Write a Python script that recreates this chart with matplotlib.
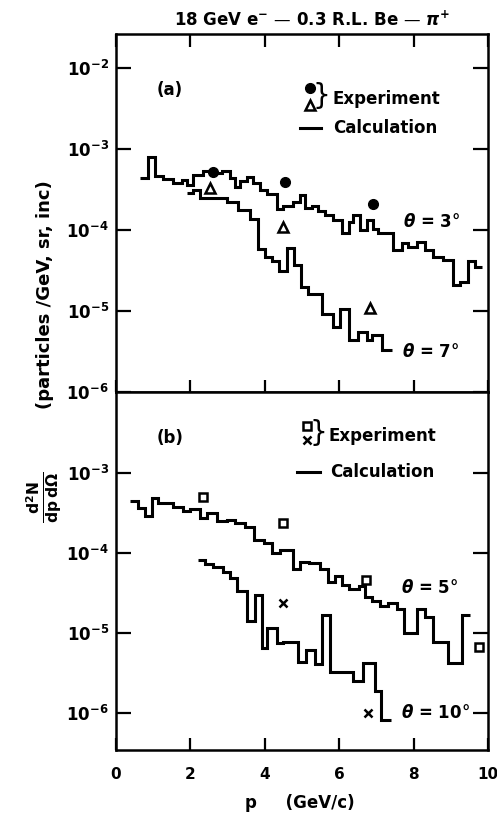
import math
import matplotlib
matplotlib.use("Agg")
import matplotlib.pyplot as plt
from matplotlib.ticker import FixedLocator, FixedFormatter, NullLocator

# ---------------------------
# Data (p in GeV/c, yield per GeV, sr, inc)
# ---------------------------
# panel (a): theta = 3 deg calculation
edges_3 = [0.65, 0.87, 1.05, 1.27, 1.54, 1.77, 1.9, 2.08, 2.35, 2.62, 2.84, 3.06, 3.2, 3.33,
           3.51, 3.69, 3.87, 4.05, 4.32, 4.5, 4.77, 4.95, 5.08, 5.26, 5.44, 5.62, 5.84, 6.07,
           6.25, 6.38, 6.56, 6.74, 6.92, 7.05, 7.45, 7.68, 7.86, 8.08, 8.3, 8.53, 8.8, 9.07,
           9.25, 9.47, 9.65, 9.83]
calc_3 = [4.4e-4, 8.0e-4, 4.7e-4, 4.3e-4, 3.8e-4, 4.1e-4, 3.6e-4, 4.8e-4, 5.4e-4, 5.1e-4,
          5.4e-4, 4.4e-4, 3.4e-4, 4.0e-4, 4.5e-4, 3.8e-4, 3.1e-4, 2.8e-4, 1.8e-4, 2.0e-4,
          2.2e-4, 2.7e-4, 1.85e-4, 2.0e-4, 1.7e-4, 1.55e-4, 1.33e-4, 9.1e-5, 1.27e-4, 1.55e-4,
          1.0e-4, 1.33e-4, 1.04e-4, 9.1e-5, 5.7e-5, 6.9e-5, 6.2e-5, 7.2e-5, 5.7e-5, 4.7e-5,
          4.3e-5, 2.1e-5, 2.3e-5, 4.1e-5, 3.5e-5]

# panel (a): theta = 7 deg calculation
edges_7 = [1.9, 2.08, 2.26, 2.98, 3.29, 3.6, 3.83, 4.0, 4.2, 4.38, 4.6, 4.78, 4.96, 5.17,
           5.53, 5.84, 6.02, 6.25, 6.51, 6.74, 6.87, 7.14, 7.41]
calc_7 = [2.9e-4, 3.1e-4, 2.5e-4, 2.2e-4, 1.78e-4, 1.35e-4, 5.8e-5, 4.6e-5, 4.1e-5, 3.1e-5,
          6.0e-5, 3.7e-5, 2.0e-5, 1.6e-5, 9.3e-6, 6.4e-6, 1.07e-5, 4.4e-6, 5.5e-6, 4.4e-6,
          5.0e-6, 3.3e-6]

# panel (a): experiment
p_exp_3 = [2.6, 4.54, 6.92]
y_exp_3 = [5.2e-4, 3.9e-4, 2.1e-4]
p_exp_7 = [2.53, 4.5, 6.83]
y_exp_7 = [3.3e-4, 1.1e-4, 1.1e-5]

# panel (b): theta = 5 deg calculation
edges_5 = [0.38, 0.6, 0.78, 0.97, 1.13, 1.53, 1.8, 2.0, 2.27, 2.45, 2.72, 2.99, 3.2, 3.47,
           3.7, 3.97, 4.2, 4.42, 4.77, 4.95, 5.2, 5.48, 5.7, 5.88, 6.07, 6.25, 6.52, 6.7,
           6.87, 7.1, 7.32, 7.55, 7.73, 8.08, 8.3, 8.53, 8.93, 9.3, 9.52]
calc_5 = [4.5e-4, 3.6e-4, 2.9e-4, 4.8e-4, 4.2e-4, 3.7e-4, 3.3e-4, 3.5e-4, 2.7e-4, 3.2e-4,
          2.5e-4, 2.6e-4, 2.4e-4, 2.1e-4, 1.45e-4, 1.35e-4, 1.0e-4, 1.1e-4, 6.3e-5, 7.8e-5,
          7.4e-5, 6.4e-5, 4.4e-5, 5.2e-5, 4.0e-5, 3.6e-5, 3.9e-5, 2.8e-5, 2.5e-5, 2.2e-5,
          2.4e-5, 2.0e-5, 1.0e-5, 2.0e-5, 1.6e-5, 7.8e-6, 4.2e-6, 1.67e-5]

# panel (b): theta = 10 deg calculation
edges_10 = [2.2, 2.4, 2.62, 2.88, 3.06, 3.24, 3.51, 3.74, 3.92, 4.05, 4.32, 4.5, 4.9, 5.12,
            5.35, 5.53, 5.75, 6.38, 6.65, 6.96, 7.12, 7.4]
calc_10 = [8.2e-5, 7.3e-5, 6.7e-5, 5.8e-5, 4.9e-5, 3.4e-5, 1.4e-5, 3.0e-5, 6.5e-6, 1.15e-5,
           7.5e-6, 7.8e-6, 4.4e-6, 6.1e-6, 4.1e-6, 1.67e-5, 3.3e-6, 2.5e-6, 4.2e-6, 1.9e-6,
           8.2e-7]

# panel (b): experiment
p_exp_5 = [2.35, 4.48, 6.72, 9.76]
y_exp_5 = [5.0e-4, 2.4e-4, 4.6e-5, 6.7e-6]
p_exp_10 = [4.48, 6.78]
y_exp_10 = [2.37e-5, 1.0e-6]

x_ticks = [0, 2, 4, 6, 8, 10]
y_ticks_a = [1e-6, 1e-5, 1e-4, 1e-3, 1e-2]
y_ticks_b = [1e-6, 1e-5, 1e-4, 1e-3]

# ---------------------------
# Figure
# ---------------------------
plt.rcParams["font.family"] = "DejaVu Sans"
plt.rcParams["font.weight"] = "bold"

fig = plt.figure(figsize=(4.97, 8.14), dpi=100)
ax_a = fig.add_axes([0.2334, 0.5184, 0.7485, 0.4398])
ax_b = fig.add_axes([0.2334, 0.0786, 0.7485, 0.4398])

lw = 2.2


def style_axis(ax, yticks, ylim, top_ticks):
    ax.set_yscale("log")
    ax.set_xlim(0, 10)
    ax.set_ylim(*ylim)
    for s in ax.spines.values():
        s.set_linewidth(1.8)
    ax.xaxis.set_major_locator(FixedLocator(x_ticks))
    ax.yaxis.set_major_locator(FixedLocator(yticks))
    ax.yaxis.set_major_formatter(FixedFormatter(
        [r"$\mathbf{10^{%d}}$" % round(math.log10(t)) for t in yticks]))
    ax.xaxis.set_minor_locator(NullLocator())
    ax.yaxis.set_minor_locator(NullLocator())
    ax.tick_params(axis="y", which="major", direction="in", length=11, width=1.6,
                   left=True, right=True, labelsize=12, pad=5)
    ax.tick_params(axis="x", which="major", direction="in", length=9, width=1.6,
                   bottom=True, top=top_ticks, labelsize=11, pad=12)


style_axis(ax_a, y_ticks_a, (1e-6, 10 ** -1.58), True)
style_axis(ax_b, y_ticks_b, (10 ** -6.46, 10 ** -1.99), False)
ax_a.tick_params(axis="x", labelbottom=False)

# panel (a)
ax_a.stairs(calc_3, edges_3, baseline=None, color="black", lw=lw)
ax_a.stairs(calc_7, edges_7, baseline=None, color="black", lw=lw)
ax_a.plot(p_exp_3, y_exp_3, "o", color="black", ms=7)
ax_a.plot(p_exp_7, y_exp_7, "^", mfc="white", mec="black", mew=1.8, ms=7)

ax_a.text(0.145, 0.844, "(a)", transform=ax_a.transAxes, fontsize=12, ha="center", va="center")
ax_a.plot([0.522], [0.850], "o", color="black", ms=7, transform=ax_a.transAxes, clip_on=False)
ax_a.plot([0.522], [0.802], "^", mfc="white", mec="black", mew=1.8, ms=7,
          transform=ax_a.transAxes, clip_on=False)
ax_a.text(0.552, 0.826, "}", transform=ax_a.transAxes, fontsize=20, ha="center", va="center",
          fontweight="normal")
ax_a.text(0.583, 0.818, "Experiment", transform=ax_a.transAxes, fontsize=12, va="center")
ax_a.plot([0.495, 0.55], [0.737, 0.737], color="black", lw=lw, transform=ax_a.transAxes)
ax_a.text(0.585, 0.737, "Calculation", transform=ax_a.transAxes, fontsize=12, va="center")
ax_a.text(0.848, 0.475, r"$\theta$ = 3°", transform=ax_a.transAxes, fontsize=12,
          ha="center", va="center")
ax_a.text(0.845, 0.112, r"$\theta$ = 7°", transform=ax_a.transAxes, fontsize=12,
          ha="center", va="center")

# panel (b)
ax_b.stairs(calc_5, edges_5, baseline=None, color="black", lw=lw)
ax_b.stairs(calc_10, edges_10, baseline=None, color="black", lw=lw)
ax_b.plot(p_exp_5, y_exp_5, "s", mfc="white", mec="black", mew=1.8, ms=6)
ax_b.plot(p_exp_10, y_exp_10, "x", color="black", mew=1.8, ms=6)

ax_b.text(0.145, 0.872, "(b)", transform=ax_b.transAxes, fontsize=12, ha="center", va="center")
ax_b.plot([0.513], [0.904], "s", mfc="white", mec="black", mew=1.8, ms=6,
          transform=ax_b.transAxes, clip_on=False)
ax_b.plot([0.513], [0.866], "x", color="black", mew=1.8, ms=6,
          transform=ax_b.transAxes, clip_on=False)
ax_b.text(0.543, 0.885, "}", transform=ax_b.transAxes, fontsize=20, ha="center", va="center",
          fontweight="normal")
ax_b.text(0.572, 0.876, "Experiment", transform=ax_b.transAxes, fontsize=12, va="center")
ax_b.plot([0.487, 0.548], [0.777, 0.777], color="black", lw=lw, transform=ax_b.transAxes)
ax_b.text(0.575, 0.777, "Calculation", transform=ax_b.transAxes, fontsize=12, va="center")
ax_b.text(0.844, 0.453, r"$\theta$ = 5°", transform=ax_b.transAxes, fontsize=12,
          ha="center", va="center")
ax_b.text(0.858, 0.103, r"$\theta$ = 10°", transform=ax_b.transAxes, fontsize=12,
          ha="center", va="center")

# titles and axis labels
fig.text(0.628, 0.975, r"18 GeV e$^{-}$ — 0.3 R.L. Be — $\pi^{+}$", fontsize=12,
         ha="center", va="center")
fig.text(0.604, 0.014, "p     (GeV/c)", fontsize=12, ha="center", va="center")
fig.text(0.09, 0.389, r"$\mathbf{\frac{d^2N}{dp\,d\Omega}}$",
         rotation=90, fontsize=16, ha="center", va="center")
fig.text(0.09, 0.638, "(particles /GeV, sr, inc)",
         rotation=90, fontsize=13, ha="center", va="center")

plt.savefig("out.png", dpi=100)
plt.close()
